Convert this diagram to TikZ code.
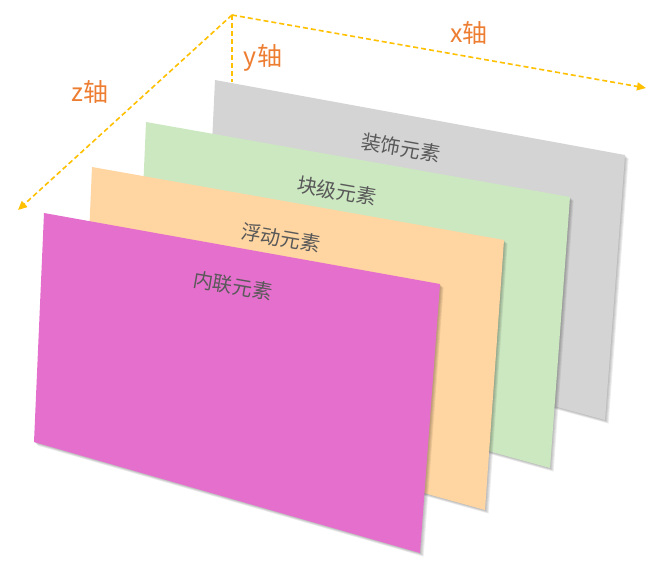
\documentclass[tikz,border=0pt]{standalone}
\usepackage{fontspec}
\setmainfont{Noto Sans CJK SC}
\usetikzlibrary{arrows.meta}
\definecolor{axisc}{HTML}{FFC000}
\definecolor{labc}{HTML}{ED7D31}
\definecolor{grayp}{HTML}{D4D4D4}
\definecolor{greenp}{HTML}{CCE8C1}
\definecolor{orangep}{HTML}{FFD5A1}
\definecolor{magp}{HTML}{E56FCD}
\definecolor{txtc}{HTML}{595959}
\tikzset{
  axisline/.style={draw=axisc, line width=1.6pt, dash pattern=on 5pt off 3pt, -{Triangle[length=9pt,width=8pt]}},
  axislabel/.style={text=labc, font=\fontsize{25}{25}\selectfont, inner sep=0pt},
  paneltext/.style={text=txtc, font=\fontsize{20}{20}\selectfont, rotate=-10, inner sep=0pt},
  shadowfill/.style={fill=black, opacity=0.07},
}
\newcommand{\panel}[5]{%
  \foreach \s in {1,2,3,4}{\fill[shadowfill, shift={(\s*0.9pt,-\s*0.9pt)}] #1 -- #2 -- #3 -- #4 -- cycle;}
  \fill[#5] #1 -- #2 -- #3 -- #4 -- cycle;}
\begin{document}
\begin{tikzpicture}[x=1pt, y=-1pt]
\useasboundingbox (0,0) rectangle (665,572);
% axes
\coordinate (O) at (232,15);
\coordinate (X) at (646,88);
\coordinate (Y) at (232,82);
\coordinate (Z) at (18,210);
\draw[axisline] (O) -- (X);
\draw[axisline] (O) -- (Z);
\draw[draw=axisc, line width=1.6pt, dash pattern=on 5pt off 3pt] (O) -- (Y);
\node[axislabel] (xl) at (469,33) {x轴};
\node[axislabel] (yl) at (263,58) {y轴};
\node[axislabel] (zl) at (90,92) {z轴};
% panels
\panel{(215,80)}{(625,155)}{(605,420)}{(204,311)}{grayp}
\node[paneltext] (t1) at (401,148) {装饰元素};
\panel{(146,122)}{(570,197)}{(550,468)}{(136,354)}{greenp}
\node[paneltext] (t2) at (337,191) {块级元素};
\panel{(92,167)}{(504,240)}{(485,510)}{(82,398)}{orangep}
\node[paneltext] (t3) at (281,238) {浮动元素};
\panel{(44,213)}{(440,284)}{(420,553)}{(34,442)}{magp}
\node[paneltext] (t4) at (233,286) {内联元素};
\end{tikzpicture}
\end{document}
